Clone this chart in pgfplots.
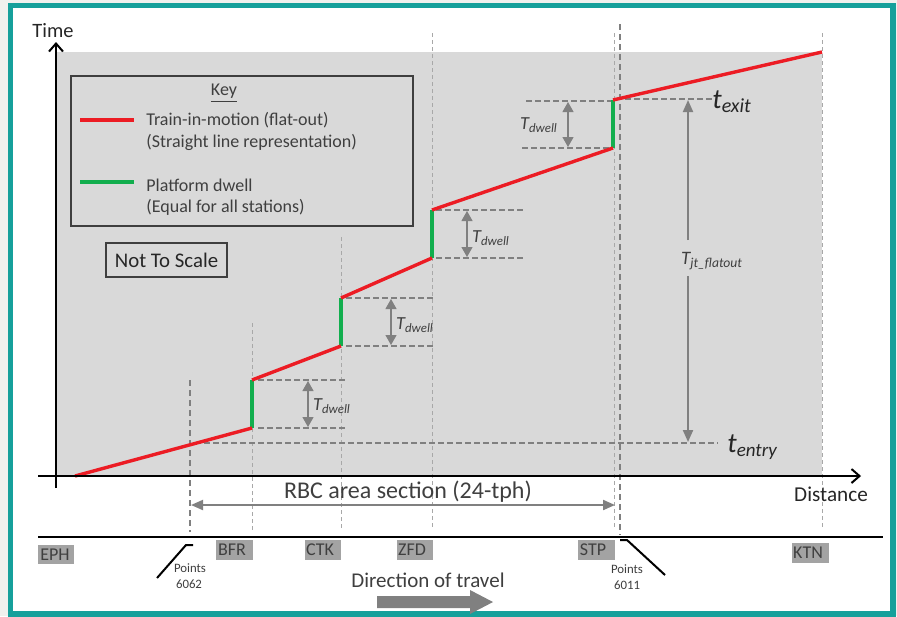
\documentclass[border=0pt]{standalone}
\usepackage{pgfplots}
\pgfplotsset{compat=1.18}
\usepackage{fontspec}
\setmainfont{Carlito}
\usetikzlibrary{arrows.meta}

\definecolor{frame}{HTML}{16A09B}
\definecolor{outside}{HTML}{F0F1EE}
\definecolor{panel}{HTML}{D9D9D9}
\definecolor{motion}{HTML}{EC1C24}
\definecolor{dwell}{HTML}{12AE4E}
\definecolor{guide}{HTML}{808080}
\definecolor{faint}{HTML}{A8A8A8}
\definecolor{ink}{HTML}{3F3F3F}
\definecolor{stn}{HTML}{A3A3A3}

\newcommand{\fs}[1]{\fontsize{#1}{#1}\selectfont}
\newcommand{\Tdwell}{{\itshape T\textsubscript{dwell}}}

\begin{document}
\begin{tikzpicture}
\begin{axis}[
    width=448.5pt, height=308pt, scale only axis,
    xmin=0, xmax=897, ymin=0, ymax=616, y dir=reverse,
    hide axis, clip=false,
]
% page, frame and shaded region (pixel coordinates, y downwards)
\fill[outside] (0,0) rectangle (897,616);
\draw[frame, fill=white, line width=2.6pt] (10.5,5.5) rectangle (893,614);
\fill[panel] (57,52) rectangle (822,476);

% station guide lines
\draw[faint, line width=0.5pt, dash pattern=on 2pt off 1.5pt] (252,323) -- (252,530);
\draw[faint, line width=0.5pt, dash pattern=on 2pt off 1.5pt] (341,237) -- (341,530);
\draw[faint, line width=0.5pt, dash pattern=on 2pt off 1.5pt] (432,33) -- (432,530);
\draw[faint, line width=0.5pt, dash pattern=on 2pt off 1.5pt] (614,33) -- (614,530);
\draw[faint, line width=0.5pt, dash pattern=on 2pt off 1.5pt] (822,33) -- (822,530);
% points boundaries
\draw[guide, line width=1pt, dash pattern=on 3pt off 2pt] (190,380) -- (190,532);
\draw[guide, line width=1pt, dash pattern=on 3pt off 2pt] (620,24) -- (620,535);

% horizontal time guides
\draw[guide, line width=1pt, dash pattern=on 3pt off 1.5pt] (195,443) -- (718,443);
\draw[guide, line width=1pt, dash pattern=on 3pt off 1.5pt] (258,380) -- (345,380);
\draw[guide, line width=1pt, dash pattern=on 3pt off 1.5pt] (258,428) -- (345,428);
\draw[guide, line width=1pt, dash pattern=on 3pt off 1.5pt] (346,298) -- (433,298);
\draw[guide, line width=1pt, dash pattern=on 3pt off 1.5pt] (346,346) -- (433,346);
\draw[guide, line width=1pt, dash pattern=on 3pt off 1.5pt] (436,210) -- (523,210);
\draw[guide, line width=1pt, dash pattern=on 3pt off 1.5pt] (436,258) -- (523,258);
\draw[guide, line width=1pt, dash pattern=on 3pt off 1.5pt] (526,101) -- (611,101);
\draw[guide, line width=1pt, dash pattern=on 3pt off 1.5pt] (522,148) -- (611,148);
\draw[guide, line width=1pt, dash pattern=on 3pt off 1.5pt] (616,99) -- (712,99);

% dwell arrows
\draw[guide, line width=0.6pt, {Triangle[width=5.5pt,length=5pt]}-{Triangle[width=5.5pt,length=5pt]}] (308,381) -- (308,427);
\draw[guide, line width=0.6pt, {Triangle[width=5.5pt,length=5pt]}-{Triangle[width=5.5pt,length=5pt]}] (391,299) -- (391,345);
\draw[guide, line width=0.6pt, {Triangle[width=5.5pt,length=5pt]}-{Triangle[width=5.5pt,length=5pt]}] (467,211) -- (467,257);
\draw[guide, line width=0.6pt, {Triangle[width=5.5pt,length=5pt]}-{Triangle[width=5.5pt,length=5pt]}] (568,102) -- (568,147);
\node[ink, font=\fs{9.2}] at (332,406) {\Tdwell};
\node[ink, font=\fs{9.2}] at (415,325) {\Tdwell};
\node[ink, font=\fs{9.2}] at (491,238) {\Tdwell};
\node[ink, font=\fs{9.2}] at (539,125) {\Tdwell};

% journey time arrow
\draw[guide, line width=1pt, -{Triangle[width=5pt,length=6pt]}] (688,240) -- (688,100);
\draw[guide, line width=1pt, -{Triangle[width=5pt,length=6pt]}] (688,276) -- (688,442);
\node[ink, font=\fs{9.5}] at (712,261) {\itshape T\textsubscript{\fs{6.8}jt\_flatout}};
\node[black!85, anchor=west, inner sep=0pt] at (712,102) {\fs{14}\itshape t\raisebox{-0.3ex}{\fs{10}exit}};
\node[black!85, anchor=west, inner sep=0pt] at (727,447) {\fs{14}\itshape t\raisebox{-0.3ex}{\fs{9.5}entry}};

% trajectory: train in motion and platform dwell
\addplot[dwell, line width=1.7pt, unbounded coords=jump] coordinates {
    (252,428) (252,380) (252,nan)
    (341,346) (341,298) (341,nan)
    (432,258) (432,210) (432,nan)
    (613,148) (613,100)
};
\addplot[motion, line width=1.7pt, unbounded coords=jump] coordinates {
    (75,476) (252,428) (252,nan)
    (252,380) (341,346) (341,nan)
    (341,298) (432,258) (432,nan)
    (432,210) (613,148) (613,nan)
    (613,100) (822,52)
};

% axes
\draw[black, line width=1pt, -{Straight Barb[length=4pt,width=7pt]}] (56,488) -- (56,42);
\draw[black, line width=1pt, -{Straight Barb[length=4pt,width=7pt]}] (38,476) -- (861,476);
\node[black!85, font=\fs{10.2}] at (53,31) {Time};
\node[black!85, font=\fs{10.6}] at (831,494) {Distance};

% key
\draw[ink, fill=panel, line width=0.6pt] (71,76) rectangle (413,226);
\node[ink, font=\fs{9}] at (224,93) {\underline{Key}};
\draw[motion, line width=1.7pt] (80,120) -- (134,120);
\draw[dwell, line width=1.7pt] (80,182) -- (134,182);
\node[ink, font=\fs{9}, anchor=west, inner sep=0pt] at (146,120) {Train-in-motion (flat-out)};
\node[ink, font=\fs{9}, anchor=west, inner sep=0pt] at (146,142) {(Straight line representation)};
\node[ink, font=\fs{9}, anchor=west, inner sep=0pt] at (146,185) {Platform dwell};
\node[ink, font=\fs{9}, anchor=west, inner sep=0pt] at (146,207) {(Equal for all stations)};
\draw[ink, fill=panel, line width=0.6pt] (106,243) rectangle (227,277);
\node[black!85, font=\fs{10.4}] at (166.5,260) {Not To Scale};

% RBC section
\node[ink, font=\fs{12}] at (408,492) {RBC area section (24-tph)};
\draw[guide, line width=1pt, {Triangle[width=5pt,length=6pt]}-{Triangle[width=5pt,length=6pt]}] (191,505) -- (615,505);

% track and stations
\draw[black, line width=1pt] (38,537) -- (883,537);
\fill[stn] (38,545) rectangle (74,564);
\fill[stn] (216,540) rectangle (253,560);
\fill[stn] (305,540) rectangle (341,560);
\fill[stn] (397,540) rectangle (433,560);
\fill[stn] (578,540) rectangle (615,560);
\fill[stn] (792,543) rectangle (829,563);
\node[ink, font=\fs{9}] at (55,555) {EPH};
\node[ink, font=\fs{9}] at (232,550) {BFR};
\node[ink, font=\fs{9}] at (320,550) {CTK};
\node[ink, font=\fs{9}] at (412,550) {ZFD};
\node[ink, font=\fs{9}] at (593,550) {STP};
\node[ink, font=\fs{9}] at (808,553) {KTN};

% points
\draw[black, line width=1pt] (157,578) -- (186,545) -- (193,545);
\draw[black, line width=1pt] (620,540) -- (627,540) -- (665,575);
\node[ink, font=\fs{6.4}] at (190,568) {Points};
\node[ink, font=\fs{6.4}] at (189,584) {6062};
\node[ink, font=\fs{6.4}] at (627,569) {Points};
\node[ink, font=\fs{6.4}] at (627,585) {6011};

% direction of travel
\node[ink, font=\fs{10.5}] at (428,580) {Direction of travel};
\fill[guide] (377,596) -- (470,596) -- (470,590) -- (493,602) -- (470,614) -- (470,608) -- (377,608) -- cycle;
\end{axis}
\end{tikzpicture}
\end{document}
